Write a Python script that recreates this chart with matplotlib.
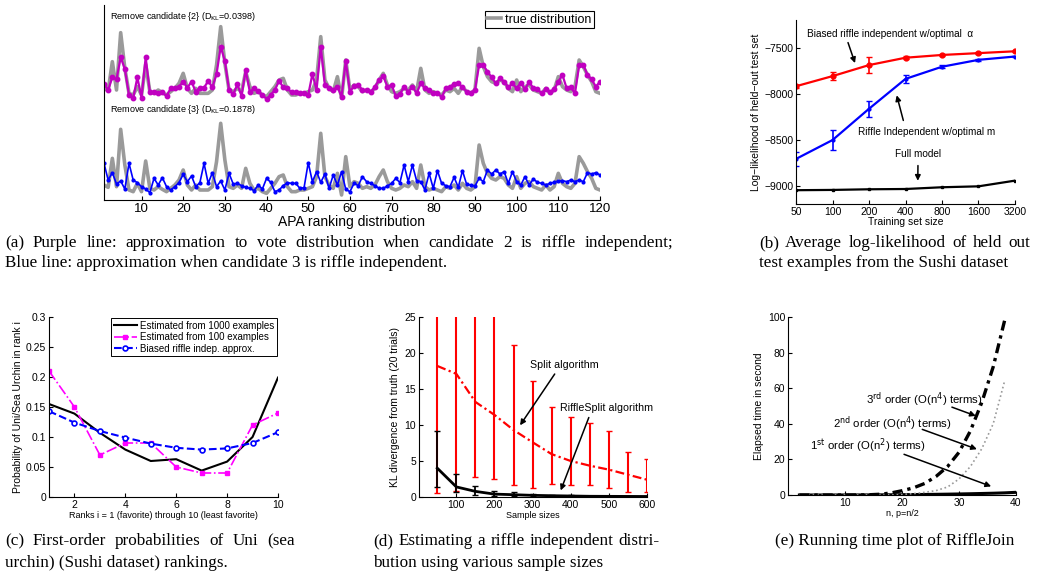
import numpy as np
import matplotlib
matplotlib.use("Agg")
import matplotlib.pyplot as plt

plt.rcParams['font.family'] = ['Liberation Sans', 'DejaVu Sans']
plt.rcParams['axes.unicode_minus'] = True

# ---------------- data ----------------
# (a) APA rankings: heights (arbitrary units)
apa_rank = list(range(1, 121))
true_dist = [35, 28, 115, 30, 202, 95, 20, 15, 40, 15, 107, 25, 20, 30, 22, 15, 25, 35, 50, 80,
             35, 20, 35, 20, 20, 20, 30, 105, 220, 110, 30, 25, 35, 25, 85, 40, 20, 25, 15, 10,
             25, 40, 60, 65, 30, 15, 15, 20, 20, 25, 30, 60, 190, 60, 35, 25, 70, 5, 120, 30,
             45, 40, 25, 30, 25, 35, 60, 80, 45, 25, 20, 25, 35, 30, 45, 25, 95, 30, 20, 25,
             20, 15, 30, 25, 35, 20, 40, 25, 20, 30, 155, 100, 70, 55, 50, 60, 55, 35, 25, 60,
             25, 40, 45, 30, 25, 20, 35, 20, 30, 70, 40, 30, 25, 40, 120, 100, 75, 55, 25, 20]
approx_c2 = [48, 30, 68, 62, 128, 93, 15, 5, 68, 7, 128, 23, 23, 22, 23, 12, 35, 35, 40, 55,
             37, 55, 25, 37, 37, 57, 38, 78, 160, 117, 30, 17, 47, 12, 90, 23, 35, 27, 15, 3,
             15, 30, 58, 38, 35, 23, 23, 22, 20, 15, 78, 30, 160, 45, 35, 30, 40, 10, 117, 25,
             42, 45, 30, 30, 23, 40, 60, 72, 40, 45, 12, 18, 40, 25, 40, 20, 50, 35, 30, 20,
             22, 8, 35, 40, 48, 50, 38, 25, 22, 30, 105, 105, 85, 68, 50, 65, 55, 38, 50, 35,
             52, 32, 55, 35, 33, 20, 33, 25, 32, 55, 75, 35, 38, 20, 105, 105, 75, 62, 40, 55]
approx_c3 = [100, 50, 72, 38, 47, 23, 100, 50, 42, 30, 23, 12, 55, 35, 57, 30, 20, 30, 42, 67,
             45, 62, 30, 42, 100, 40, 72, 30, 47, 20, 70, 38, 40, 33, 28, 25, 18, 35, 23, 55,
             43, 15, 20, 33, 42, 40, 40, 25, 27, 102, 45, 75, 43, 68, 25, 65, 35, 75, 22, 15,
             40, 33, 60, 45, 40, 33, 25, 25, 32, 40, 55, 42, 95, 45, 95, 48, 45, 20, 70, 25,
             78, 40, 33, 30, 58, 28, 78, 37, 35, 32, 55, 45, 80, 68, 80, 68, 75, 40, 75, 45,
             35, 60, 35, 53, 43, 40, 35, 40, 43, 47, 48, 45, 50, 45, 50, 45, 72, 68, 72, 65]

# (b) Sushi log-likelihood
train_size = [50, 100, 200, 400, 800, 1600, 3200]
biased_ll = [-7920, -7810, -7690, -7610, -7580, -7560, -7540]
biased_err = [15, 40, 85, 15, 12, 10, 8]
riffle_ll = [-8710, -8505, -8165, -7840, -7708, -7633, -7597]
riffle_err = [80, 110, 85, 40, 15, 10, 8]
full_ll = [-9050, -9047, -9040, -9037, -9018, -9008, -8946]

# (c) first-order probabilities
ranks = list(range(1, 11))
p_1000 = [0.155, 0.139, 0.107, 0.079, 0.060, 0.063, 0.044, 0.059, 0.100, 0.199]
p_100 = [0.21, 0.15, 0.07, 0.09, 0.09, 0.05, 0.04, 0.04, 0.12, 0.14]
p_biased = [0.143, 0.124, 0.110, 0.099, 0.089, 0.082, 0.079, 0.081, 0.090, 0.108]

# (d) KL divergence vs sample size
sample_sizes = [50, 100, 150, 200, 250, 300, 350, 400, 450, 500, 550, 600]
split_kl = [18.2, 17.1, 13.2, 11.4, 9.3, 7.6, 5.95, 5.0, 4.35, 3.8, 3.1, 2.4]
split_hi = [30, 30, 30, 30, 21.1, 16.1, 12.5, 11.1, 10.3, 9.1, 6.2, 5.3]
split_lo = [0.55, 0.9, 2.8, 2.5, 1.7, 1.3, 1.8, 1.6, 1.6, 1.25, 0.7, 0.7]
riffle_kl = [4.0, 1.4, 0.78, 0.4, 0.32, 0.23, 0.18, 0.14, 0.10, 0.09, 0.08, 0.07]
riffle_hi = [9.2, 3.2, 1.5, 0.8, 0.65, 0.4, 0.3, 0.3, 0.2, 0.15, 0.12, 0.1]
riffle_lo = [1.34, 0.65, 0.3, 0.15, 0.12, 0.1, 0.08, 0.06, 0.05, 0.04, 0.04, 0.03]

# (e) running time
n_vals = [2, 4, 6, 8, 10, 12, 14, 16, 18, 20, 22, 24, 26, 28, 30, 32, 34, 36, 38, 40]
t_first = [0, 0, 0, 0, 0.02, 0.03, 0.05, 0.08, 0.12, 0.18, 0.24, 0.3, 0.38, 0.47, 0.58,
           0.7, 0.85, 1.0, 1.2, 1.5]
n_high = [2, 4, 6, 8, 10, 12, 14, 16, 18, 20, 22, 24, 26, 28, 30, 32, 34, 36, 38]
t_second = [0, 0, 0, 0, 0, 0, 0.02, 0.05, 0.1, 0.25, 0.8, 1.5, 2.5, 4.5, 9, 16, 26, 40, 64]
t_third = [0, 0, 0, 0, 0, 0.02, 0.1, 0.4, 1.1, 2.4, 4.0, 6.5, 10.5, 16, 24, 36, 52, 72, 98]

# ---------------- figure ----------------
W, H = 1050, 576
fig = plt.figure(figsize=(W / 100, H / 100), dpi=100)


def ax_px(l, t, r, b):
    ax = fig.add_axes([l / W, 1 - b / H, (r - l) / W, (b - t) / H])
    ax.spines['top'].set_visible(False)
    ax.spines['right'].set_visible(False)
    ax.tick_params(direction='in', length=3, width=0.8)
    return ax


GRAY = '#9a9a9a'
OFFSET = 290
kw = dict(arrowprops=dict(arrowstyle='-|>', color='black', lw=1.1, mutation_scale=8))

# ---- (a)
ax = ax_px(104, 5, 600, 200)
ax.plot(apa_rank, np.array(true_dist) + OFFSET, color=GRAY, lw=2.6, label='true distribution')
ax.plot(apa_rank, np.array(approx_c2) + OFFSET, color='#c000c0', lw=1.6, marker='o', ms=3.2)
ax.plot(apa_rank, true_dist, color=GRAY, lw=2.6)
ax.plot(apa_rank, approx_c3, color='#0000ff', lw=1.2, marker='.', ms=4)
ax.set_xlim(1, 120)
ax.set_ylim(-10, 575)
ax.set_yticks([])
ax.set_xticks([10, 20, 30, 40, 50, 60, 70, 80, 90, 100, 110, 120])
ax.tick_params(axis='x', labelsize=9.5, pad=2)
ax.set_xlabel('APA ranking distribution', fontsize=10, labelpad=0)
ax.text(2.4, 540, 'Remove candidate {2} (D$_{\\mathrm{KL}}$=0.0398)', fontsize=6.5, va='center')
ax.text(2.4, 260, 'Remove candidate {3} (D$_{\\mathrm{KL}}$=0.1878)', fontsize=6.5, va='center')
leg = ax.legend(loc='upper right', fontsize=9, handlelength=1.1, borderpad=0.2,
                handletextpad=0.3, borderaxespad=0.5, fancybox=False, framealpha=1)
leg.get_frame().set_edgecolor('black')
leg.get_frame().set_linewidth(0.8)

# ---- (b)
ax = ax_px(796, 20, 1015, 204)
ax.set_xscale('log', base=2)
ax.errorbar(train_size, biased_ll, yerr=biased_err, color='#ff0000', lw=1.6, marker='o',
            ms=3.5, capsize=2.5, elinewidth=1.2)
ax.errorbar(train_size, riffle_ll, yerr=riffle_err, color='#0000ff', lw=1.6, marker='.',
            ms=4, capsize=2.5, elinewidth=1.2)
ax.plot(train_size, full_ll, color='black', lw=1.6, marker='s', ms=2)
ax.set_xlim(50, 3200)
ax.set_ylim(-9200, -7200)
ax.set_xticks(train_size)
ax.set_xticklabels([str(v) for v in train_size])
ax.minorticks_off()
ax.set_yticks([-9000, -8500, -8000, -7500])
ax.tick_params(labelsize=7.5, pad=2)
ax.set_xlabel('Training set size', fontsize=7.5, labelpad=0)
ax.set_ylabel('Log\u2212likelihood of held\u2212out test set', fontsize=7.5, labelpad=2)
ax.annotate('', xy=(156, -7697), xytext=(132, -7417), **kw)
ax.text(61.6, -7352, 'Biased riffle independent w/optimal  \u03b1', fontsize=7.2, va='center')
ax.annotate('', xy=(334, -7989), xytext=(389, -8321), **kw)
ax.text(162, -8419, 'Riffle Independent w/optimal m', fontsize=7.2, va='center')
ax.annotate('', xy=(505, -8978), xytext=(507, -8752), **kw)
ax.text(327, -8656, 'Full model', fontsize=7.2, va='center')

# ---- (c)
ax = ax_px(49, 317, 278, 497)
ax.plot(ranks, p_1000, color='black', lw=1.5, label='Estimated from 1000 examples')
ax.plot(ranks, p_100, color='#ff00ff', lw=1.2, ls='-.', marker='s', ms=3.5,
        label='Estimated from 100 examples')
ax.plot(ranks, p_biased, color='#0000ff', lw=1.5, ls='--', marker='o', ms=3.5,
        mfc='white', mew=1.2, label='Biased riffle indep. approx.')
ax.set_xlim(1, 10)
ax.set_ylim(0, 0.3)
ax.set_xticks([2, 4, 6, 8, 10])
ax.set_yticks([0, 0.05, 0.1, 0.15, 0.2, 0.25, 0.3])
ax.set_yticklabels(['0', '0.05', '0.1', '0.15', '0.2', '0.25', '0.3'])
ax.tick_params(labelsize=7.5, pad=2)
ax.set_xlabel('Ranks i = 1 (favorite) through 10 (least favorite)', fontsize=6.5, labelpad=1)
ax.set_ylabel('Probability of Uni/Sea Urchin in rank i', fontsize=7.5, labelpad=2)
leg = ax.legend(loc='upper right', fontsize=7, handlelength=2.4, borderpad=0.25,
                labelspacing=0.15, handletextpad=0.3, borderaxespad=0.15, fancybox=False,
                framealpha=1)
leg.get_frame().set_edgecolor('black')
leg.get_frame().set_linewidth(0.7)

# ---- (d)
ax = ax_px(419, 317, 647, 497)
sk = np.array(split_kl)
ax.errorbar(sample_sizes, split_kl, yerr=[sk - np.array(split_lo), np.array(split_hi) - sk],
            color='#ff0000', lw=1.6, ls=(0, (4, 1.5, 1, 1.5)), capsize=2, elinewidth=1.5)
rk = np.array(riffle_kl)
ax.errorbar(sample_sizes, riffle_kl, yerr=[rk - np.array(riffle_lo), np.array(riffle_hi) - rk],
            color='black', lw=2.0, capsize=2, elinewidth=1.3)
ax.set_xlim(2, 600)
ax.set_ylim(0, 25)
ax.set_xticks([100, 200, 300, 400, 500, 600])
ax.set_yticks([0, 5, 10, 15, 20, 25])
ax.tick_params(labelsize=7.5, pad=2)
ax.set_xlabel('Sample sizes', fontsize=6.5, labelpad=1)
ax.set_ylabel('KL divergence from truth (20 trials)', fontsize=7.5, labelpad=3)
ax.annotate('', xy=(263, 9.64), xytext=(362, 17.4), **kw)
ax.text(294, 18.4, 'Split algorithm', fontsize=7.7, va='center')
ax.annotate('', xy=(371, 0.55), xytext=(450, 11.4), **kw)
ax.text(371, 12.3, 'RiffleSplit algorithm', fontsize=7.7, va='center')

# ---- (e)
ax = ax_px(788, 317, 1016, 495)
ax.plot(n_vals, t_first, color='black', lw=2.2)
ax.plot(n_high, t_second, color='#999999', lw=1.2, ls=':')
ax.plot(n_high, t_third, color='black', lw=2.4, ls=(0, (3, 1.5, 1, 1.5)))
ax.set_xlim(0, 40)
ax.set_ylim(0, 100)
ax.set_xticks([10, 20, 30, 40])
ax.set_yticks([0, 20, 40, 60, 80, 100])
ax.tick_params(labelsize=7.5, pad=2)
ax.set_xlabel('n, p=n/2', fontsize=6.5, labelpad=1)
ax.set_ylabel('Elapsed time in second', fontsize=7.5, labelpad=3)
ax.annotate('', xy=(33.4, 43.9), xytext=(28.3, 49.9), **kw)
ax.text(13.6, 53.3, '3$^{\\mathrm{rd}}$ order (O(n$^4$) terms)', fontsize=8.2, va='center')
ax.annotate('', xy=(33.6, 25.2), xytext=(23.1, 37.4), **kw)
ax.text(7.9, 39.8, '2$^{\\mathrm{nd}}$ order (O(n$^4$) terms)', fontsize=8.2, va='center')
ax.annotate('', xy=(36.1, 4.3), xytext=(19.9, 23.4), **kw)
ax.text(3.9, 27.7, '1$^{\\mathrm{st}}$ order (O(n$^2$) terms)', fontsize=8.2, va='center')

# ---------------- captions ----------------
SERIF = ['Liberation Serif', 'DejaVu Serif']
CAP_SIZE = 12.3
renderer = fig.canvas.get_renderer()


def caption(x, y, s, x_end=None):
    if x_end is None:
        fig.text(x / W, 1 - y / H, s, family=SERIF, fontsize=CAP_SIZE, va='center', ha='left')
        return
    words = s.split()
    texts = [fig.text(0, 1 - y / H, w, family=SERIF, fontsize=CAP_SIZE, va='center', ha='left')
             for w in words]
    widths = [t.get_window_extent(renderer).width for t in texts]
    gap = (x_end - x - sum(widths)) / (len(words) - 1)
    pos = x
    for t, wdt in zip(texts, widths):
        t.set_x(pos / W)
        pos += wdt + gap


caption(5, 243, '(a) Purple line: approximation to vote distribution when candidate 2 is riffle independent;', 673)
caption(5, 263, 'Blue line: approximation when candidate 3 is riffle independent.')
caption(759, 243, '(b) Average log-likelihood of held out', 1030)
caption(759, 263, 'test examples from the Sushi dataset')
caption(5, 541, '(c) First-order probabilities of Uni (sea', 295)
caption(5, 563, 'urchin) (Sushi dataset) rankings.')
caption(373, 541, '(d) Estimating a riffle independent distri-', 660)
caption(373, 563, 'bution using various sample sizes')
caption(775, 541, '(e) Running time plot of RiffleJoin')

fig.savefig('out.png', dpi=100)
